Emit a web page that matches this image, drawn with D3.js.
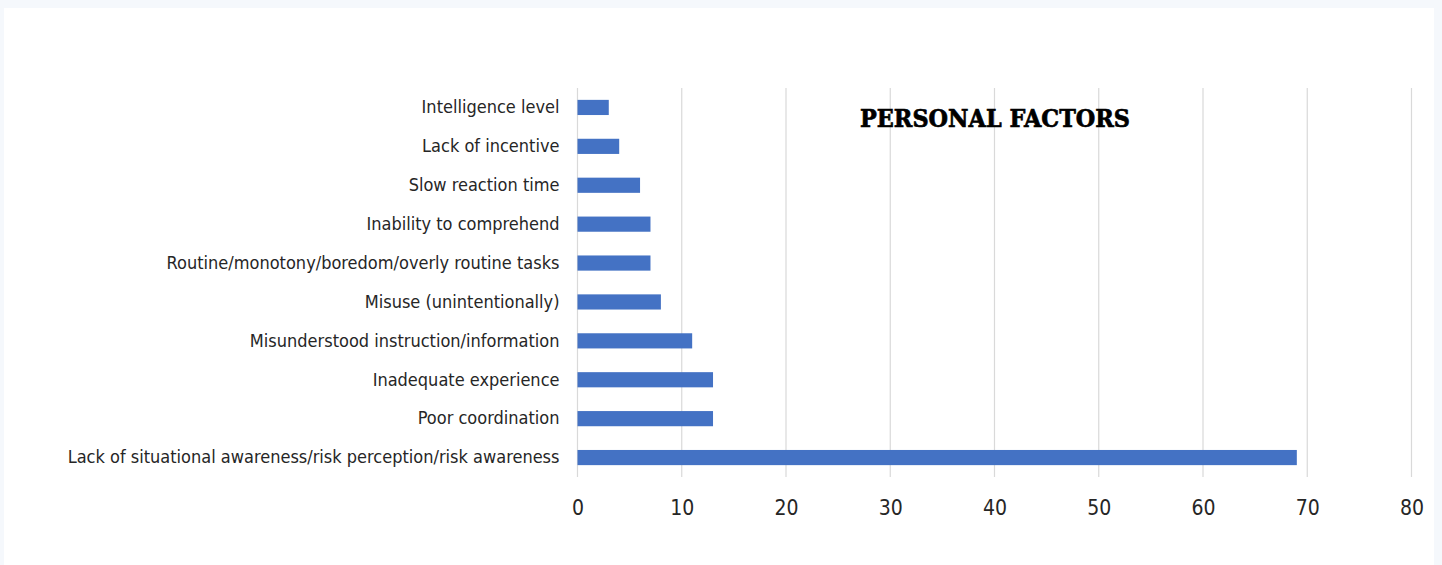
<!DOCTYPE html>
<html>
<head>
<meta charset="utf-8">
<script src="https://cdn.jsdelivr.net/npm/d3@7/dist/d3.min.js"></script>
<style>
  html, body { margin: 0; padding: 0; background: #f5f8fc; }
  svg { display: block; }
</style>
</head>
<body>
<svg id="chart" width="1442" height="565"></svg>
<script>
// Personal factors, most frequent at the bottom
const categories = [
  "Intelligence level",
  "Lack of incentive",
  "Slow reaction time",
  "Inability to comprehend",
  "Routine/monotony/boredom/overly routine tasks",
  "Misuse (unintentionally)",
  "Misunderstood instruction/information",
  "Inadequate experience",
  "Poor coordination",
  "Lack of situational awareness/risk perception/risk awareness"
];
const counts = [3, 4, 6, 7, 7, 8, 11, 13, 13, 69];
const xTicks = [0, 10, 20, 30, 40, 50, 60, 70, 80];
const chartTitle = "PERSONAL FACTORS";

const svg = d3.select("#chart");
const W = 1442, H = 565;
const plot = { left: 577.5, right: 1411.5, top: 88, bottom: 477 };

// white card
svg.append("rect")
  .attr("x", 4).attr("y", 8)
  .attr("width", 1430).attr("height", H - 8)
  .attr("fill", "#ffffff");

const x = d3.scaleLinear().domain([0, 80]).range([plot.left, plot.right]);
const y = d3.scaleBand().domain(categories).range([plot.top, plot.bottom]).paddingInner(0.61).paddingOuter(0.305);

// vertical gridlines
svg.append("g")
  .selectAll("line")
  .data(xTicks)
  .join("line")
  .attr("x1", d => x(d)).attr("x2", d => x(d))
  .attr("y1", plot.top).attr("y2", plot.bottom)
  .attr("stroke", "#d9d9d9")
  .attr("stroke-width", 1.2);

// bars
svg.append("g")
  .selectAll("rect")
  .data(categories.map((c, i) => ({ c, v: counts[i] })))
  .join("rect")
  .attr("x", x(0))
  .attr("y", d => y(d.c))
  .attr("width", d => x(d.v) - x(0))
  .attr("height", y.bandwidth())
  .attr("fill", "#4472c4");

const labelFont = "'Liberation Sans Narrow', 'DejaVu Sans Condensed', 'Open Sans', sans-serif";

// category axis
const yAxis = d3.axisLeft(y).tickSize(0).tickPadding(18);
const gy = svg.append("g")
  .attr("transform", `translate(${plot.left},0)`)
  .call(yAxis);
gy.select(".domain").remove();
gy.selectAll("text")
  .attr("font-family", labelFont)
  .attr("font-size", 18)
  .attr("fill", "#262626");

// value axis
const xAxis = d3.axisBottom(x).tickValues(xTicks).tickSize(0).tickPadding(23);
const gx = svg.append("g")
  .attr("transform", `translate(0,${plot.bottom})`)
  .call(xAxis);
gx.select(".domain").remove();
gx.selectAll("text")
  .attr("font-family", labelFont)
  .attr("font-size", 21)
  .attr("fill", "#262626");

// title
svg.append("text")
  .attr("x", 995)
  .attr("y", 127)
  .attr("text-anchor", "middle")
  .attr("font-family", "'DejaVu Serif', 'Liberation Serif', serif")
  .attr("font-weight", "bold")
  .attr("font-size", 24)
  .attr("fill", "#000000")
  .attr("stroke", "#000000")
  .attr("stroke-width", 0.7)
  .attr("textLength", 270)
  .attr("lengthAdjust", "spacingAndGlyphs")
  .text(chartTitle);
</script>
</body>
</html>
